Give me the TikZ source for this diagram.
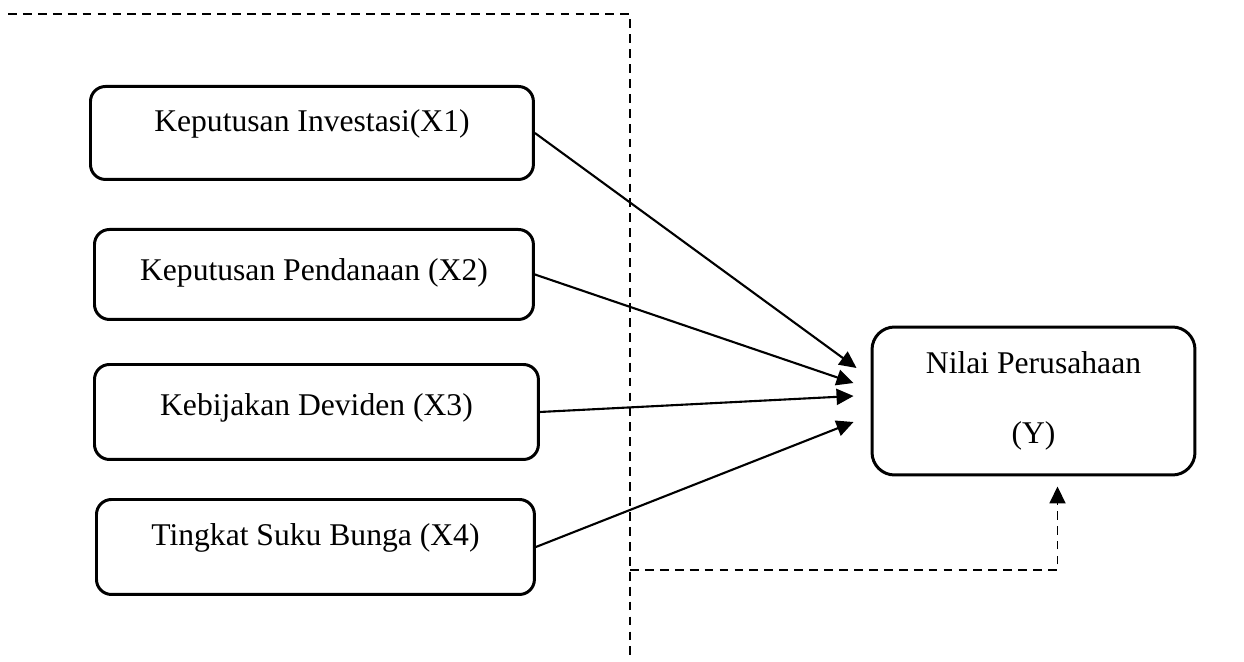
\documentclass[tikz,border=0pt]{standalone}
\usepackage{fontspec}
\setmainfont{Liberation Serif}
\usetikzlibrary{arrows.meta}

\tikzset{
  varbox/.style={draw, line width=1.7pt, rounded corners=0.3cm, anchor=north west,
                 inner xsep=0pt, inner ysep=0pt, font=\fontsize{18}{22}\selectfont},
  ybox/.style={draw, line width=1.7pt, rounded corners=0.45cm, align=center,
               minimum width=6.46cm, minimum height=2.96cm, font=\fontsize{18}{39.8}\selectfont},
  link/.style={line width=1.2pt, -{Triangle[length=0.34cm,width=0.32cm]}},
  guide/.style={line width=1.1pt, dash pattern=on 5pt off 3.5pt}
}

\begin{document}
\begin{tikzpicture}[x=0.02cm, y=-0.02cm]
    \useasboundingbox (0,0) rectangle (1244,662);

    \node[varbox, minimum width=8.86cm, text height=0.9cm,  text depth=0.96cm] (x1) at (89,85)  {Keputusan Investasi(X1)};
    \node[varbox, minimum width=8.78cm, text height=1.02cm, text depth=0.78cm] (x2) at (93,228) {Keputusan Pendanaan (X2)};
    \node[varbox, minimum width=8.88cm, text height=1.02cm, text depth=0.88cm] (x3) at (93,363) {Kebijakan Deviden (X3)};
    \node[varbox, minimum width=8.76cm, text height=0.92cm, text depth=0.98cm] (x4) at (95,498) {Tingkat Suku Bunga (X4)};
    \node[ybox] (y) at (1033.5,401) {Nilai Perusahaan\\(Y)};

    \draw[link] (x1.east) -- ([shift={(-14,-33)}]y.west);
    \draw[link] (x2.east) -- ([shift={(-17,-18)}]y.west);
    \draw[link] (x3.east) -- ([shift={(-17,-5)}]y.west);
    \draw[link] (x4.east) -- ([shift={(-17,21)}]y.west);

    % dashed frame
    \coordinate (tl) at (8,14);
    \coordinate (tr) at (630,14);
    \coordinate (bend) at (630,570);
    \coordinate (bl) at (630,656);
    \draw[guide] (tl) -- (tr) -- (bl);
    \draw[guide, -{Triangle[length=0.34cm,width=0.32cm]}] (bend) -| ([shift={(24,10)}]y.south);
\end{tikzpicture}
\end{document}
